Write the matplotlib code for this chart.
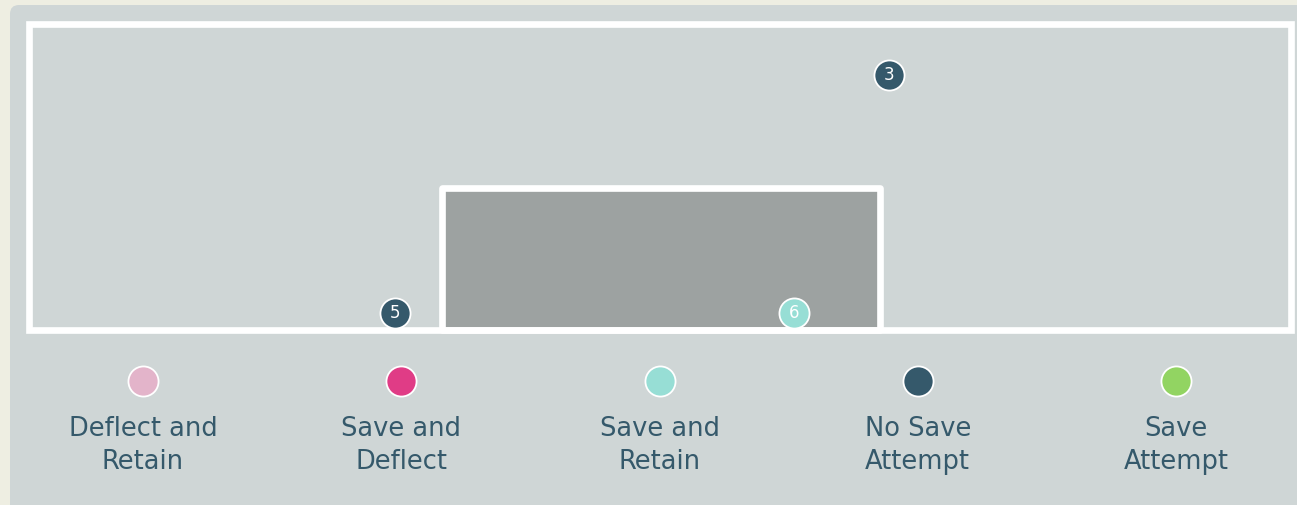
import numpy as np
import matplotlib.pyplot as plt
from matplotlib.patches import Rectangle, FancyBboxPatch

# shot locations on the goal frame (pixel-style units, y grows downward)
shot_x = [889, 395, 794]
shot_y = [75, 313, 313]
shot_num = ['3', '5', '6']
shot_outcome = ['No Save Attempt', 'No Save Attempt', 'Save and Retain']

outcomes = ['Deflect and\nRetain', 'Save and\nDeflect', 'Save and\nRetain',
            'No Save\nAttempt', 'Save\nAttempt']
outcome_colors = ['#E3B4CA', '#E03C86', '#97DED5', '#35596B', '#92D462']
color_of = {o.replace('\n', ' '): c for o, c in zip(outcomes, outcome_colors)}

W, H = 1297, 505
bg = '#EEEEE2'
panel = '#CFD6D6'
goal_fill = '#9DA2A1'
text_col = '#35596B'

fig = plt.figure(figsize=(W / 100, H / 100), dpi=100, facecolor=bg)
ax = fig.add_axes([0, 0, 1, 1])
ax.set_xlim(0, W)
ax.set_ylim(H, 0)
ax.axis('off')

# card behind everything
ax.add_patch(FancyBboxPatch((10, 5), W + 40, H + 40,
                            boxstyle='round,pad=0,rounding_size=9',
                            facecolor=panel, edgecolor='none', zorder=0))

# goal box and the outer frame
ax.add_patch(Rectangle((442, 187.5), 437.5, 142, facecolor=goal_fill,
                       edgecolor='white', lw=4.8, joinstyle='round', zorder=1))
ax.add_patch(Rectangle((29, 24), 1261.5, 305.5, facecolor='none',
                       edgecolor='white', lw=4.8, joinstyle='miter', zorder=2))

# shots
for x, y, n, o in zip(shot_x, shot_y, shot_num, shot_outcome):
    ax.scatter(x, y, s=470, color=color_of[o], edgecolors='white',
               linewidths=1.3, zorder=3)
    ax.text(x, y + 0.5, n, color='white', fontsize=12, ha='center',
            va='center', zorder=4)

# legend row
lx = np.linspace(143, 1176, len(outcomes))
for x, lab, c in zip(lx, outcomes, outcome_colors):
    ax.scatter(x, 381, s=470, color=c, edgecolors='white', linewidths=1.3,
               zorder=3)
    ax.text(x, 445.5, lab, color=text_col, fontsize=18.5, ha='center',
            va='center', multialignment='center', linespacing=1.38)

fig.savefig('out.png', dpi=100, facecolor=bg)
